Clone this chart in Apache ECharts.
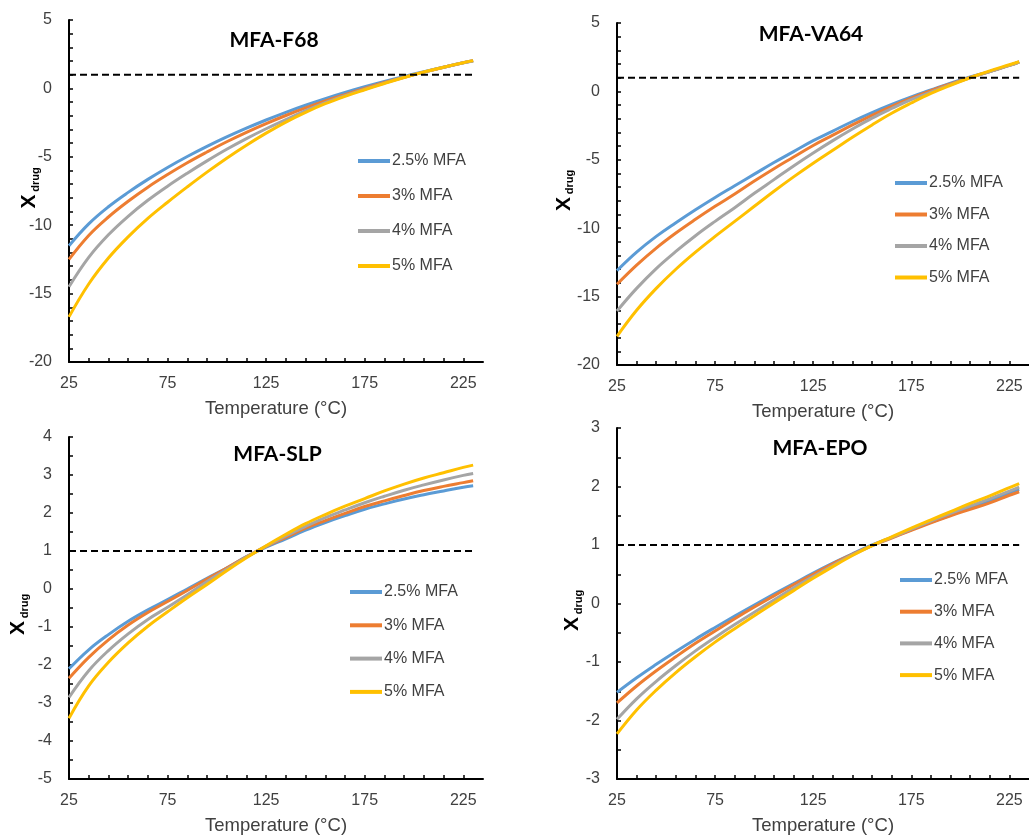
<!DOCTYPE html>
<html>
<head>
<meta charset="utf-8">
<title>X_drug vs temperature</title>
<script src="https://cdn.jsdelivr.net/npm/echarts@6/dist/echarts.min.js"></script>
<style>
  html, body { margin: 0; padding: 0; background: #fff; }
  #chart { width: 1029px; height: 836px; }
</style>
</head>
<body>
<div id="chart"></div>
<script>
// Temperatures (°C) at which X_drug was evaluated
const temperatures = [25, 35, 45, 55, 65, 75, 85, 95, 105, 115, 125, 135, 145, 155, 165, 175, 185, 195, 205, 215, 225, 230];

const loadings = ['2.5% MFA', '3% MFA', '4% MFA', '5% MFA'];
const lineColors = ['#5B9BD5', '#ED7D31', '#A5A5A5', '#FFC000'];

// MFA-F68
const f68_25 = [-11.5, -9.9, -8.65, -7.6, -6.65, -5.78, -4.98, -4.24, -3.55, -2.91, -2.31, -1.75, -1.23, -0.75, -0.3, 0.12, 0.51, 0.87, 1.22, 1.55, 1.87, 2.02];
const f68_3 = [-12.5, -10.75, -9.4, -8.25, -7.22, -6.3, -5.44, -4.65, -3.9, -3.21, -2.57, -1.98, -1.43, -0.92, -0.45, 0.0, 0.43, 0.82, 1.19, 1.54, 1.87, 2.02];
const f68_4 = [-14.5, -12.35, -10.7, -9.35, -8.18, -7.15, -6.2, -5.3, -4.45, -3.67, -2.95, -2.28, -1.62, -1.04, -0.53, -0.06, 0.39, 0.81, 1.19, 1.54, 1.87, 2.01];
const f68_5 = [-16.7, -14.3, -12.4, -10.85, -9.5, -8.32, -7.2, -6.12, -5.1, -4.15, -3.27, -2.46, -1.75, -1.12, -0.58, -0.1, 0.36, 0.8, 1.2, 1.55, 1.88, 2.03];

// MFA-VA64
const va64_25 = [-13.1, -11.75, -10.6, -9.6, -8.65, -7.75, -6.9, -6.05, -5.2, -4.4, -3.6, -2.9, -2.2, -1.55, -0.95, -0.4, 0.1, 0.6, 1.05, 1.45, 1.9, 2.15];
const va64_3 = [-14.1, -12.7, -11.45, -10.35, -9.35, -8.4, -7.5, -6.55, -5.65, -4.8, -3.95, -3.2, -2.45, -1.75, -1.1, -0.5, 0.05, 0.55, 1.02, 1.45, 1.9, 2.15];
const va64_4 = [-16.05, -14.4, -12.95, -11.7, -10.55, -9.5, -8.5, -7.45, -6.45, -5.45, -4.5, -3.6, -2.75, -1.95, -1.25, -0.6, -0.05, 0.5, 1.0, 1.45, 1.9, 2.15];
const va64_5 = [-17.9, -16.0, -14.4, -13.0, -11.75, -10.6, -9.5, -8.4, -7.3, -6.25, -5.25, -4.3, -3.35, -2.45, -1.6, -0.85, -0.15, 0.45, 1.0, 1.5, 1.95, 2.18];

// MFA-SLP
const slp_25 = [-2.1, -1.6, -1.2, -0.85, -0.55, -0.28, 0.0, 0.28, 0.55, 0.85, 1.1, 1.32, 1.55, 1.75, 1.93, 2.1, 2.24, 2.37, 2.48, 2.58, 2.68, 2.72];
const slp_3 = [-2.35, -1.8, -1.34, -0.95, -0.62, -0.33, -0.04, 0.26, 0.55, 0.85, 1.12, 1.36, 1.6, 1.8, 1.99, 2.17, 2.32, 2.46, 2.59, 2.7, 2.8, 2.85];
const slp_4 = [-2.85, -2.15, -1.62, -1.18, -0.8, -0.48, -0.15, 0.2, 0.52, 0.84, 1.13, 1.4, 1.65, 1.88, 2.08, 2.27, 2.44, 2.6, 2.74, 2.87, 2.99, 3.04];
const slp_5 = [-3.4, -2.55, -1.93, -1.42, -0.98, -0.6, -0.23, 0.12, 0.48, 0.82, 1.14, 1.44, 1.72, 1.96, 2.18, 2.38, 2.58, 2.76, 2.92, 3.06, 3.2, 3.26];

// MFA-EPO
const epo_25 = [-1.52, -1.27, -1.04, -0.82, -0.61, -0.41, -0.215, -0.025, 0.16, 0.34, 0.52, 0.69, 0.85, 1.0, 1.13, 1.26, 1.39, 1.51, 1.63, 1.75, 1.89, 1.95];
const epo_3 = [-1.7, -1.41, -1.15, -0.91, -0.68, -0.47, -0.26, -0.06, 0.13, 0.32, 0.5, 0.68, 0.84, 0.99, 1.12, 1.25, 1.38, 1.5, 1.61, 1.72, 1.85, 1.91];
const epo_4 = [-1.98, -1.63, -1.33, -1.06, -0.81, -0.58, -0.36, -0.15, 0.06, 0.27, 0.46, 0.65, 0.83, 0.99, 1.13, 1.27, 1.41, 1.54, 1.67, 1.79, 1.92, 1.99];
const epo_5 = [-2.23, -1.82, -1.48, -1.18, -0.91, -0.66, -0.43, -0.21, 0.01, 0.22, 0.43, 0.63, 0.82, 0.99, 1.14, 1.29, 1.43, 1.57, 1.71, 1.84, 1.98, 2.05];

// Reference level X_drug = 1 and the temperature span it is drawn over
const unityLevel = 1;
const unitySpan = [25, 230];

// Axis tick labels
const xTickLabels = [25, 75, 125, 175, 225];
const yTickLabelsTop = [-20, -15, -10, -5, 0, 5];
const yTickLabelsSLP = [-5, -4, -3, -2, -1, 0, 1, 2, 3, 4];
const yTickLabelsEPO = [-3, -2, -1, 0, 1, 2, 3];

const panels = [
  { title: 'MFA-F68', data: [f68_25, f68_3, f68_4, f68_5], yMin: -20, yMax: 5, yStep: 1, yLabels: yTickLabelsTop,
    grid: { left: 69, top: 20, width: 414, height: 342 },
    titlePos: [274, 40], namePos: [29.5, 201.5],
    legend: { left: 358, top: 153, gap: 19 } },
  { title: 'MFA-VA64', data: [va64_25, va64_3, va64_4, va64_5], yMin: -20, yMax: 5, yStep: 1, yLabels: yTickLabelsTop,
    grid: { left: 617, top: 23, width: 416, height: 342 },
    titlePos: [811, 34], namePos: [564, 204],
    legend: { left: 895, top: 175, gap: 15.5 } },
  { title: 'MFA-SLP', data: [slp_25, slp_3, slp_4, slp_5], yMin: -5, yMax: 4, yStep: 0.5, yLabels: yTickLabelsSLP,
    grid: { left: 69, top: 437, width: 414, height: 343 },
    titlePos: [277.5, 454.5], namePos: [18.5, 628],
    legend: { left: 350, top: 584, gap: 17.3 } },
  { title: 'MFA-EPO', data: [epo_25, epo_3, epo_4, epo_5], yMin: -3, yMax: 3, yStep: 0.5, yLabels: yTickLabelsEPO,
    grid: { left: 617, top: 428, width: 416, height: 352 },
    titlePos: [820, 448], namePos: [572.5, 624],
    legend: { left: 900, top: 572, gap: 15.7 } }
];

const labelFont = 'Liberation Sans, Arial, sans-serif';
const labelColor = '#404040';

const grids = [], xAxes = [], yAxes = [], series = [], legends = [], graphics = [];

panels.forEach((p, i) => {
  grids.push(Object.assign({ containLabel: false }, p.grid));

  xAxes.push({
    gridIndex: i, type: 'value', min: 25, max: 235, interval: 10,
    axisLine: { show: true, onZero: false, lineStyle: { color: '#000', width: 2 } },
    axisTick: { show: true, inside: true, length: 4, lineStyle: { color: '#000', width: 1.5 } },
    splitLine: { show: false },
    axisLabel: {
      margin: 14, fontSize: 16, fontFamily: labelFont, color: labelColor,
      formatter: v => (xTickLabels.indexOf(v) >= 0 ? String(v) : ''),
      showMaxLabel: false
    },
    name: 'Temperature (°C)', nameLocation: 'middle', nameGap: 37,
    nameTextStyle: { fontSize: 18.5, fontFamily: labelFont, color: labelColor }
  });

  yAxes.push({
    gridIndex: i, type: 'value', min: p.yMin, max: p.yMax, interval: p.yStep,
    axisLine: { show: true, onZero: false, lineStyle: { color: '#000', width: 2 } },
    axisTick: { show: true, inside: true, length: 4, lineStyle: { color: '#000', width: 1.5 } },
    splitLine: { show: false },
    axisLabel: {
      margin: 17, fontSize: 16, fontFamily: labelFont, color: labelColor,
      formatter: v => (p.yLabels.some(t => Math.abs(t - v) < 1e-9) ? String(v) : '')
    }
  });

  p.data.forEach((vals, k) => {
    series.push({
      name: loadings[k], type: 'line', xAxisIndex: i, yAxisIndex: i,
      data: temperatures.map((t, j) => [t, vals[j]]),
      symbol: 'none', smooth: 0.4,
      lineStyle: { color: lineColors[k], width: 3 },
      itemStyle: { color: lineColors[k] },
      z: 3 + k
    });
  });

  series.push({
    name: 'unity', type: 'line', xAxisIndex: i, yAxisIndex: i,
    data: unitySpan.map(t => [t, unityLevel]),
    symbol: 'none', silent: true,
    lineStyle: { color: '#000', width: 2, type: [7, 4] },
    z: 10
  });

  legends.push({
    data: loadings, orient: 'vertical', left: p.legend.left, top: p.legend.top,
    padding: 0, itemGap: p.legend.gap, itemWidth: 32, itemHeight: 16,
    icon: 'path://M0,0H32V4H0Z',
    selectedMode: false,
    textStyle: { fontSize: 16, fontFamily: labelFont, color: labelColor, padding: [0, 0, 0, -3] }
  });

  graphics.push({
    type: 'text', x: p.titlePos[0], y: p.titlePos[1],
    style: { text: p.title, fontSize: 21, fontWeight: 'bold', fontFamily: 'Lato, Open Sans, sans-serif',
      fill: '#000', align: 'center', verticalAlign: 'middle', textAlign: 'center', textVerticalAlign: 'middle' }
  });
  graphics.push({
    type: 'text', x: p.namePos[0], y: p.namePos[1], rotation: Math.PI / 2,
    style: { text: 'X', fontSize: 21, fontWeight: 'bold', fontFamily: labelFont,
      fill: '#000', align: 'center', verticalAlign: 'middle', textAlign: 'center', textVerticalAlign: 'middle' }
  });
  graphics.push({
    type: 'text', x: p.namePos[0] + 6, y: p.namePos[1] - 22, rotation: Math.PI / 2,
    style: { text: 'drug', fontSize: 11, fontWeight: 'bold', fontFamily: labelFont,
      fill: '#000', align: 'center', verticalAlign: 'middle', textAlign: 'center', textVerticalAlign: 'middle' }
  });
});

const chart = echarts.init(document.getElementById('chart'), null, { renderer: 'canvas' });
chart.setOption({
  animation: false,
  backgroundColor: '#fff',
  grid: grids,
  xAxis: xAxes,
  yAxis: yAxes,
  legend: legends,
  series: series,
  graphic: graphics
});
</script>
</body>
</html>
